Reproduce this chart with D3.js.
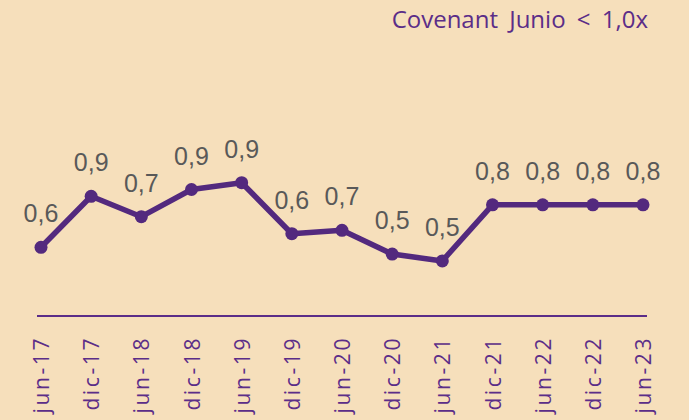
<!DOCTYPE html>
<html>
<head>
<meta charset="utf-8">
<script src="https://d3js.org/d3.v7.min.js"></script>
<style>
  body { margin: 0; background: #f6dfbb; }
  svg { display: block; }
</style>
</head>
<body>
<svg id="chart"></svg>
<script>
  const periods = ["jun-17", "dic-17", "jun-18", "dic-18", "jun-19", "dic-19", "jun-20",
                   "dic-20", "jun-21", "dic-21", "jun-22", "dic-22", "jun-23"]
  const ratio = [0.56, 0.86, 0.74, 0.90, 0.94, 0.64, 0.66, 0.52, 0.48, 0.81, 0.81, 0.81, 0.81]
  const title = "Covenant Junio < 1,0x"

  const W = 689, H = 420
  const purple = "#53297e"

  const svg = d3.select("#chart").attr("width", W).attr("height", H)
  svg.append("rect").attr("width", W).attr("height", H).attr("fill", "#f6dfbb")

  const x = d3.scalePoint().domain(periods).range([41, 643])
  const y = d3.scaleLinear().domain([0.15, 1.0]).range([317, 172.5])

  // title
  svg.append("text")
    .attr("x", 648).attr("y", 28)
    .attr("text-anchor", "end")
    .attr("fill", "#5b2d88")
    .style("font-family", "'Open Sans', sans-serif")
    .style("font-size", "24px")
    .style("word-spacing", "5px")
    .text(title)

  // category axis line
  svg.append("line")
    .attr("x1", 37).attr("x2", 647)
    .attr("y1", 316).attr("y2", 316)
    .attr("stroke", "#5b2d88").attr("stroke-width", 2)

  // category labels
  svg.selectAll("text.cat").data(periods).enter().append("text")
    .attr("class", "cat")
    .attr("transform", d => `translate(${x(d) + 8},336) rotate(-90)`)
    .attr("text-anchor", "end")
    .attr("fill", "#5b2d88")
    .style("font-family", "'Open Sans', sans-serif")
    .style("font-size", "21px")
    .style("letter-spacing", "2.6px")
    .text(d => d)

  // line
  const line = d3.line().x((d, i) => x(periods[i])).y(d => y(d))
  svg.append("path")
    .datum(ratio)
    .attr("d", line)
    .attr("fill", "none")
    .attr("stroke", purple)
    .attr("stroke-width", 5.5)
    .attr("stroke-linejoin", "round")

  svg.selectAll("circle").data(ratio).enter().append("circle")
    .attr("cx", (d, i) => x(periods[i]))
    .attr("cy", d => y(d))
    .attr("r", 6.5)
    .attr("fill", purple)

  // data labels
  svg.selectAll("text.val").data(ratio).enter().append("text")
    .attr("class", "val")
    .attr("x", (d, i) => x(periods[i]))
    .attr("y", d => y(d) - 25)
    .attr("text-anchor", "middle")
    .attr("fill", "#595959")
    .style("font-family", "'Liberation Sans', Arial, sans-serif")
    .style("font-size", "25px")
    .text(d => d3.format(".1f")(d).replace(".", ","))
</script>
</body>
</html>
